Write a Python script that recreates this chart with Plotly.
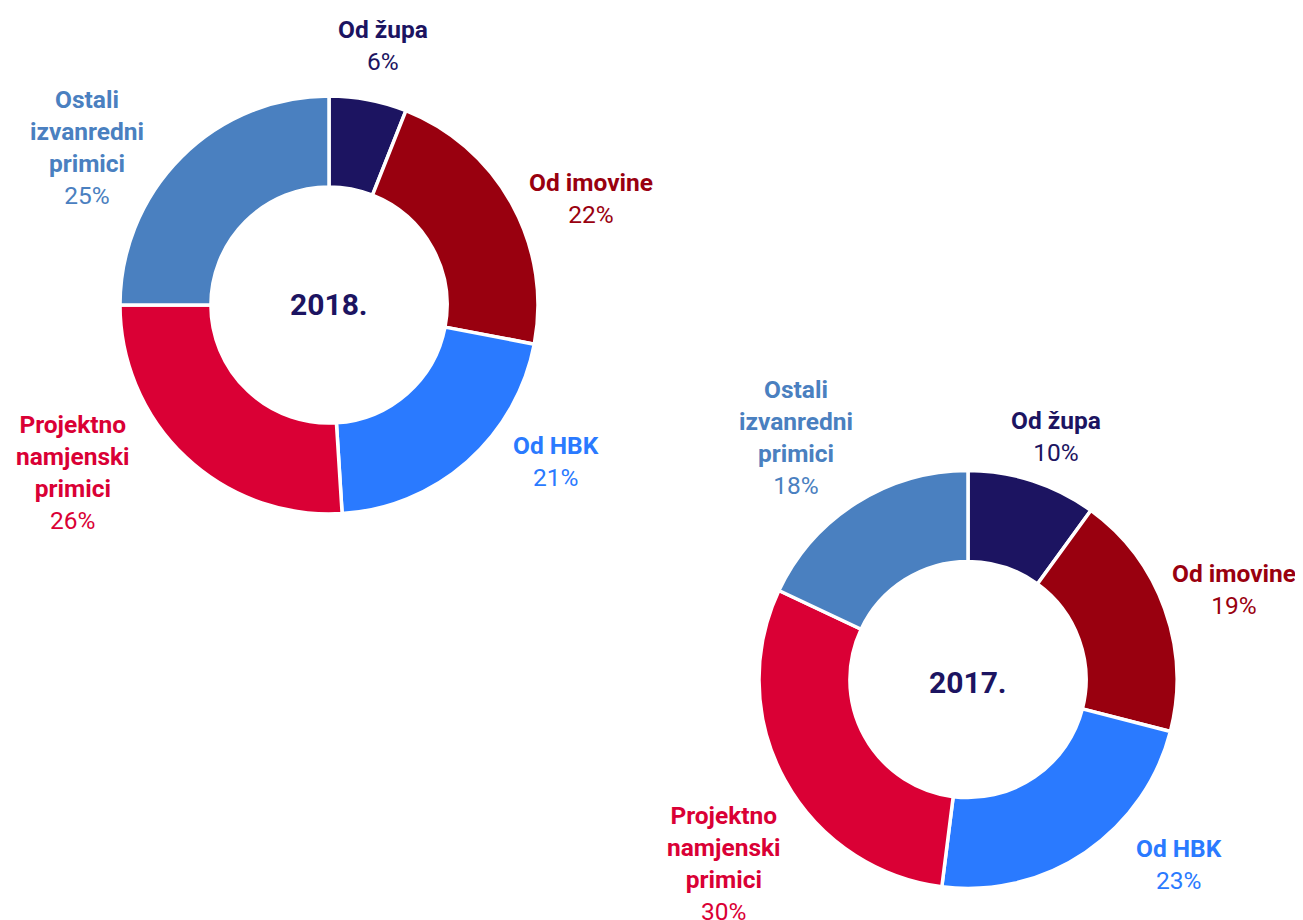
import plotly.graph_objects as go

categories = ["Od župa", "Od imovine", "Od HBK", "Projektno namjenski primici", "Ostali izvanredni primici"]
label_lines = ["Od župa", "Od imovine", "Od HBK", "Projektno<br>namjenski<br>primici", "Ostali<br>izvanredni<br>primici"]
values_2018 = [6, 22, 21, 26, 25]
values_2017 = [10, 19, 23, 30, 18]
years = ["2018.", "2017."]
colors = ["#1C1461", "#99000F", "#2A7AFF", "#DA0035", "#4A80C0"]

# page has an 8px body margin; figure fills the rest of the 1303x920 window
OFF = 8
W, H = 1303 - OFF, 920 - OFF
FONT = "Roboto"

def fx(x):
    return (x - OFF) / W

def fy(y):
    return 1 - (y - OFF) / H

fig = go.Figure()

# pixel boxes of each donut in window coordinates (left, top, right, bottom)
boxes = [(120, 96, 538, 514), (759, 470, 1177, 889)]
series = [values_2018, values_2017]

for vals, (l, t, r, b) in zip(series, boxes):
    fig.add_trace(go.Pie(
        labels=categories, values=vals, hole=0.565, sort=False,
        direction="clockwise", rotation=0,
        marker=dict(colors=colors, line=dict(color="white", width=3.5)),
        textinfo="none", hoverinfo="label+percent", showlegend=False,
        domain=dict(x=[fx(l), fx(r)], y=[fy(b), fy(t)]),
    ))

# label anchor positions in window pixels (center of text block)
label_pos = [
    [(383, 46), (591, 198), (556, 462), (73, 472), (87, 147)],
    [(1056, 436), (1234, 589), (1179, 864), (724, 863), (796, 437)],
]
annotations = []
for vals, pos in zip(series, label_pos):
    total = sum(vals)
    for i, (lbl, v) in enumerate(zip(label_lines, vals)):
        x, y = pos[i]
        annotations.append(dict(
            x=fx(x), y=fy(y), xref="paper", yref="paper",
            text=f"<b>{lbl}</b><br>{round(100 * v / total)}%",
            showarrow=False, xanchor="center", yanchor="middle",
            font=dict(family=FONT, size=24.5, color=colors[i]),
        ))

centers = [(329, 305), (968, 682)]
for yr, (cx, cy) in zip(years, centers):
    annotations.append(dict(
        x=fx(cx), y=fy(cy), xref="paper", yref="paper",
        text=f"<b>{yr}</b>", showarrow=False, xanchor="center", yanchor="middle",
        font=dict(family=FONT, size=30, color="#1C1461"),
    ))

fig.update_layout(
    width=W, height=H, margin=dict(l=0, r=0, t=0, b=0),
    paper_bgcolor="white", plot_bgcolor="white",
    annotations=annotations, font=dict(family=FONT),
)

fig.write_html("out.html")
